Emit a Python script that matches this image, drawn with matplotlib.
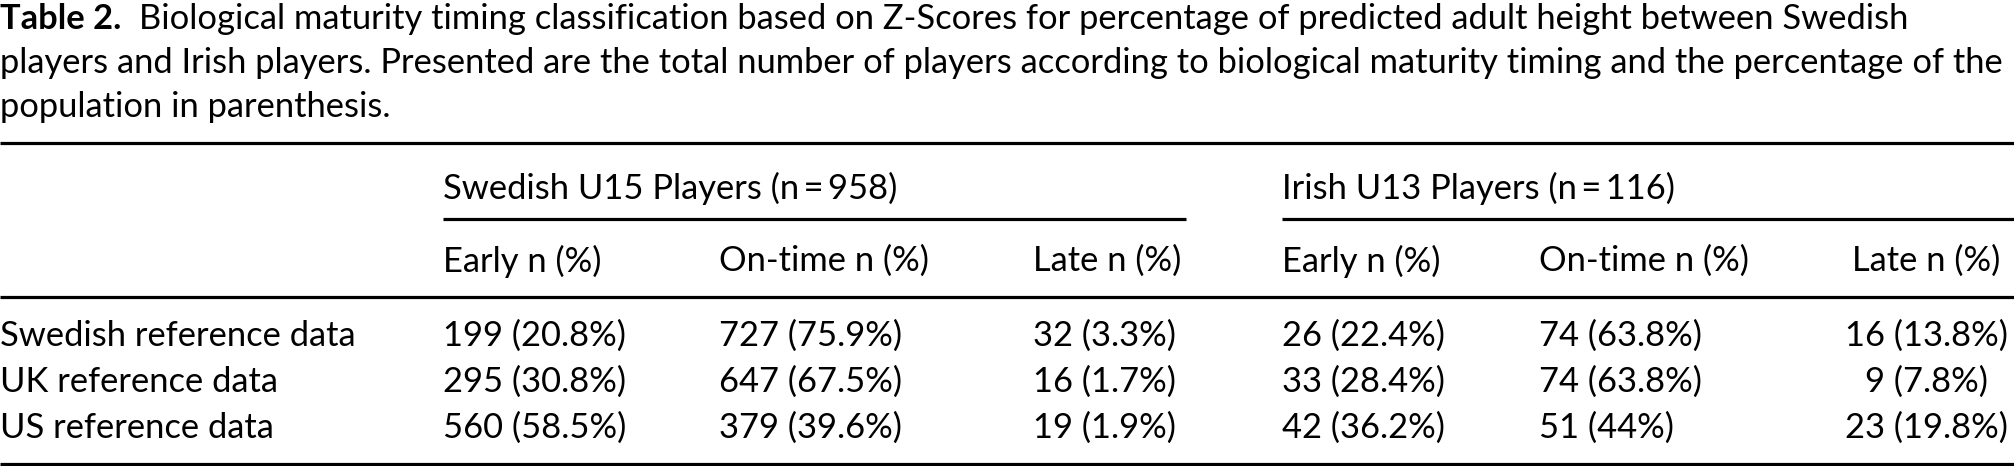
import matplotlib
matplotlib.use("Agg")
import matplotlib.pyplot as plt

# =========================
# DATA
# =========================
caption_bold = "Table 2."
caption_lines = [
    "Biological maturity timing classification based on Z-Scores for percentage of predicted adult height between Swedish",
    "players and Irish players. Presented are the total number of players according to biological maturity timing and the percentage of the",
    "population in parenthesis.",
]
groups = ["Swedish U15 Players (n\u2009=\u2009958)", "Irish U13 Players (n\u2009=\u2009116)"]
sub_headers = ["Early n (%)", "On-time n (%)", "Late n (%)"]
row_labels = ["Swedish reference data", "UK reference data", "US reference data"]

swe_n = [[199, 727, 32], [295, 647, 16], [560, 379, 19]]
swe_pct = [["20.8", "75.9", "3.3"], ["30.8", "67.5", "1.7"], ["58.5", "39.6", "1.9"]]
irl_n = [[26, 74, 16], [33, 74, 9], [42, 51, 23]]
irl_pct = [["22.4", "63.8", "13.8"], ["28.4", "63.8", "7.8"], ["36.2", "44", "19.8"]]

# =========================
# LAYOUT (pixels)
# =========================
W, H = 2014, 466
FONT = "Lato"

cap_y = [19, 63, 107]
rule_top, rule_group, rule_sub, rule_bottom = 143, 219, 297, 464
group_y, sub_y = 188, 261
row_y = [336, 382, 428]

col_x = [443, 719, 1033, 1282, 1539, 1852]
group_spans = [(443, 1186), (1282, W)]

fig = plt.figure(figsize=(W / 100, H / 100), dpi=100)
ax = fig.add_axes([0, 0, 1, 1])
ax.set_xlim(0, W)
ax.set_ylim(H, 0)
ax.axis("off")
inv = ax.transData.inverted()

# fit the font size so the longest caption line spans the width
probe = ax.text(0, 0, caption_lines[1], fontfamily=FONT, fontsize=20)
fig.canvas.draw()
w20 = probe.get_window_extent().transformed(inv).width
probe.remove()
FS = 20 * 2004 / w20

txt = dict(fontfamily=FONT, fontsize=FS, va="center", color="black")

# caption
t = ax.text(0, cap_y[0], caption_bold, fontweight="bold", **txt)
fig.canvas.draw()
bb = t.get_window_extent().transformed(inv)
ax.text(bb.x1 + 18, cap_y[0], caption_lines[0], **txt)
ax.text(0, cap_y[1], caption_lines[1], **txt)
ax.text(0, cap_y[2], caption_lines[2], **txt)

# rules
lw = 2.3
ax.hlines([rule_top, rule_sub, rule_bottom], 0, W, color="black", lw=lw)
for x0, x1 in group_spans:
    ax.hlines(rule_group, x0, x1, color="black", lw=lw)

# headers
ax.text(group_spans[0][0], group_y, groups[0], **txt)
ax.text(group_spans[1][0], group_y, groups[1], **txt)
hdr = []
for g in range(2):
    for j, h in enumerate(sub_headers):
        hdr.append(ax.text(col_x[g * 3 + j], sub_y, h, **txt))

# last column is centred under its header
fig.canvas.draw()
hb = hdr[-1].get_window_extent().transformed(inv)
late_c = (hb.x0 + hb.x1) / 2

# body
for i, lab in enumerate(row_labels):
    ax.text(0, row_y[i], lab, **txt)
    for j in range(3):
        ax.text(col_x[j], row_y[i], f"{swe_n[i][j]} ({swe_pct[i][j]}%)", **txt)
    for j in range(3):
        s = f"{irl_n[i][j]} ({irl_pct[i][j]}%)"
        if j == 2:
            ax.text(late_c, row_y[i], s, ha="center", **txt)
        else:
            ax.text(col_x[3 + j], row_y[i], s, **txt)

fig.savefig("out.png", dpi=100)
